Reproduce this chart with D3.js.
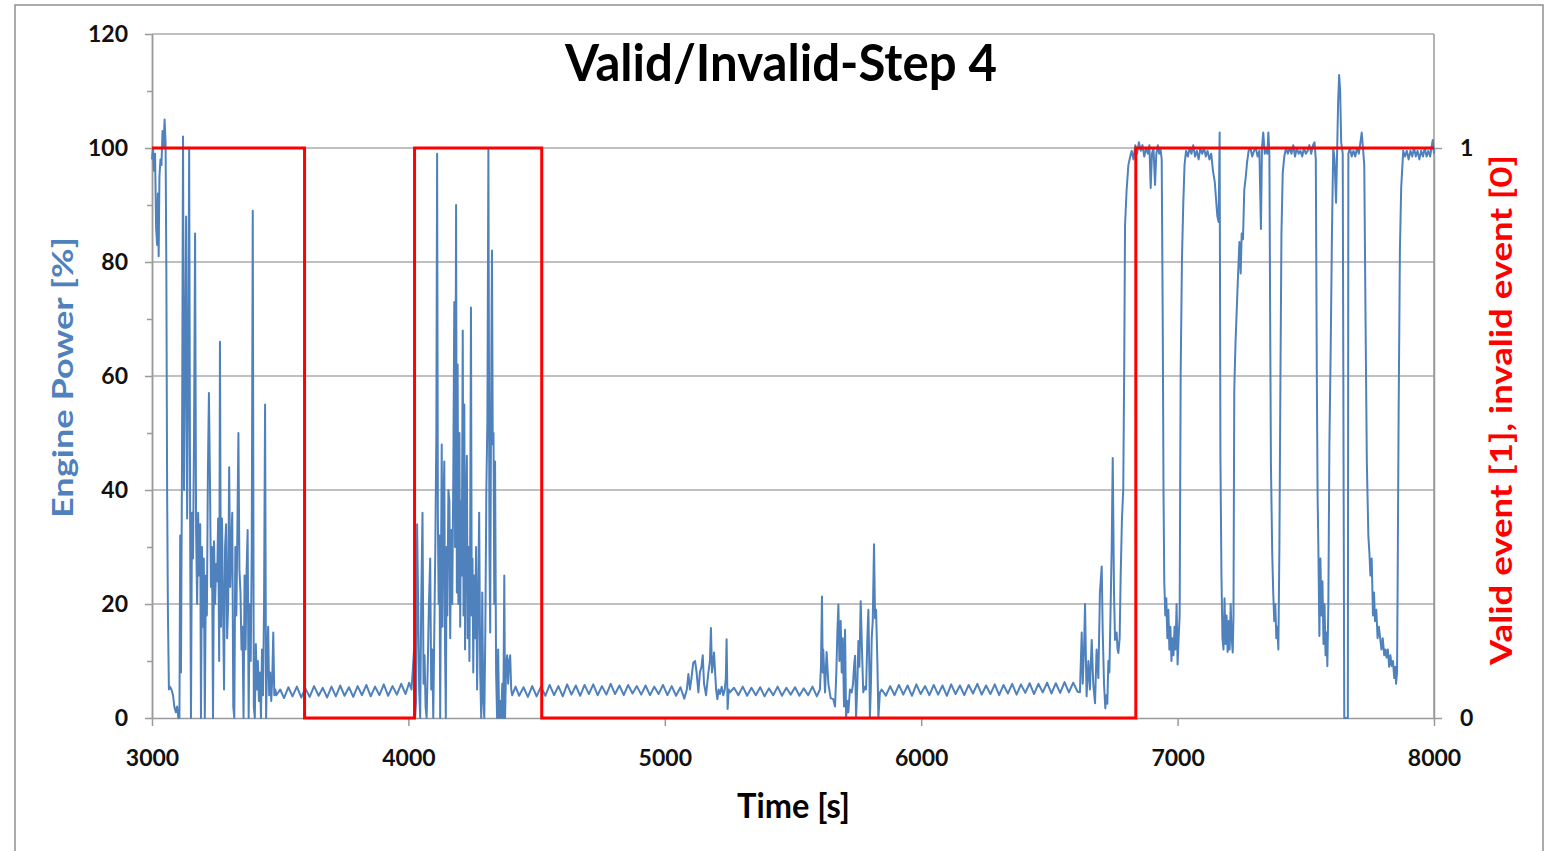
<!DOCTYPE html>
<html>
<head>
<meta charset="utf-8">
<script src="https://cdn.jsdelivr.net/npm/d3@7/dist/d3.min.js"></script>
<style>
body { margin: 0; background: #fff; }
#chart text { font-family: Lato, "Open Sans", sans-serif; font-weight: bold; }
</style>
</head>
<body>
<div id="chart"></div>
<script>
// engine power [%], as [time s, power %] pairs, segment by segment
var powerStart = [[3000,98],[3004,100],[3008,96],[3012,99],[3016,86],[3020,83],[3023,92],[3026,81],[3029,95],[3033,98],[3037,97],[3041,103],[3045,100],[3049,105],[3053,101],[3056,78],[3059,40],[3062,19],[3066,5],[3070,5.5],[3076,5],[3082,4],[3087,2],[3093,1],[3098,2],[3103,0]];
var powerBurst1 = [[3107,0],[3110,32],[3113,8],[3117,45],[3121,102],[3125,40],[3129,63],[3133,88],[3137,35],[3141,60],[3145,100],[3149,30],[3152,0],[3156,36],[3160,28],[3164,50],[3168,85],[3172,33],[3176,20],[3180,36],[3184,25],[3188,34],[3191,0],[3195,30],[3199,16],[3202,28],[3206,0],[3210,25],[3214,18],[3218,43],[3222,57],[3226,42],[3230,23],[3234,30],[3238,0],[3242,31],[3246,20],[3250,27],[3254,24],[3258,35],[3262,10],[3265,66],[3269,16],[3273,35],[3277,20],[3281,5],[3285,30],[3289,34],[3293,14],[3297,20],[3301,44],[3305,23],[3309,30],[3313,36],[3317,2],[3321,0],[3325,30],[3329,18],[3333,33],[3337,50],[3341,26],[3345,22],[3349,12],[3353,16],[3357,0],[3361,25],[3365,12],[3369,26],[3373,33],[3377,0],[3381,20],[3385,10],[3389,30],[3393,89],[3397,2],[3401,0],[3405,13],[3409,5],[3413,10],[3417,3],[3421,8],[3425,0],[3429,12],[3433,4],[3437,20],[3441,55],[3445,0],[3449,10],[3453,16],[3457,4],[3461,8],[3465,3],[3469,7],[3473,15],[3477,4],[3481,5]];
var powerIdle1 = [[3485,4],[3500,5],[3515,3.5],[3532,5.4],[3548,3.8],[3565,5.5],[3582,3.6],[3598,5.2],[3615,3.7],[3632,5.6],[3650,3.9],[3666,5.3],[3683,3.6],[3700,5.5],[3717,3.8],[3734,5.7],[3751,3.9],[3768,5.4],[3785,3.7],[3802,5.6],[3819,4.0],[3836,5.8],[3853,3.8],[3870,5.5],[3887,4.0],[3904,5.9],[3921,3.9],[3938,5.6],[3955,4.1],[3972,6.0],[3989,4.2],[4003,6.2],[4012,5]];
var powerBurst2 = [[4018,9],[4022,12],[4026,0],[4030,3],[4034,34],[4038,20],[4042,5],[4046,0],[4050,20],[4055,36],[4059,6],[4063,11],[4067,2],[4071,0],[4075,8],[4080,20],[4085,28],[4089,5],[4093,12],[4097,0],[4101,15],[4105,30],[4109,50],[4112,99],[4115,35],[4118,20],[4121,32],[4124,0],[4127,25],[4130,48],[4133,16],[4136,36],[4140,45],[4143,12],[4146,0],[4149,30],[4152,18],[4156,40],[4160,38],[4163,14],[4167,33],[4171,20],[4175,42],[4179,73],[4182,30],[4186,90],[4189,22],[4192,62],[4195,20],[4199,50],[4202,16],[4205,38],[4208,25],[4212,68],[4215,18],[4218,55],[4221,12],[4224,35],[4228,46],[4231,14],[4234,30],[4238,10],[4241,32],[4244,72],[4247,18],[4250,28],[4253,8],[4256,25],[4260,14],[4264,30],[4268,5],[4272,20],[4276,36],[4280,8],[4284,0],[4288,22],[4292,3],[4296,0],[4300,15],[4304,40],[4308,52],[4312,100],[4316,30],[4319,15],[4322,51],[4326,82],[4329,48],[4332,50],[4335,20],[4338,45],[4342,8],[4346,0],[4350,12],[4354,0],[4358,3],[4362,0],[4366,6],[4370,0],[4374,25],[4377,0],[4381,9],[4385,11],[4389,6],[4393,10],[4397,11],[4401,5]];
var powerIdle2 = [[4405,4],[4418,5.5],[4432,3.9],[4449,5.4],[4466,3.7],[4483,5.6],[4500,3.8],[4517,5.5],[4534,3.9],[4551,5.8],[4568,4.0],[4585,5.6],[4602,3.8],[4619,5.9],[4636,4.1],[4653,5.7],[4670,3.9],[4687,5.8],[4704,4.2],[4721,5.9],[4738,4.0],[4755,5.6],[4772,4.1],[4789,6.0],[4806,4.2],[4823,5.7],[4840,4.0],[4857,5.8],[4874,4.3],[4891,5.6],[4908,4.1],[4925,5.7],[4942,4.0],[4959,5.5],[4976,4.2],[4993,5.8],[5010,4.0],[5027,5.6],[5044,3.9],[5061,5.4],[5076,3.4]];
var powerBump1 = [[5086,5],[5092,7.7],[5098,5],[5104,7],[5111,9.7],[5118,10],[5124,8],[5131,4.5],[5137,8],[5143,9],[5148,11],[5153,6],[5161,4],[5170,8],[5176,10],[5180,15.8],[5184,8],[5187,9],[5192,11.5],[5200,5],[5205,3.3],[5210,5],[5215,4.2],[5222,5.5],[5228,4],[5234,5],[5238,7],[5241,13.8],[5245,1.6],[5249,5],[5254,4.5]];
var powerIdle3 = [[5270,5.3],[5287,4.0],[5304,5.5],[5321,3.9],[5338,5.3],[5355,4.0],[5372,5.4],[5389,3.8],[5406,5.2],[5423,4.0],[5440,5.5],[5457,3.9],[5474,5.3],[5491,4.1],[5508,5.4],[5525,3.9],[5542,5.2],[5559,4.0],[5576,5.5],[5593,3.8]];
var powerBump2 = [[5605,5],[5609,9],[5613,21.3],[5616,8],[5618,12],[5625,4.5],[5631,11.6],[5638,6],[5647,3.5],[5657,3.3],[5664,2],[5669,8],[5673,15],[5677,19.9],[5681,10],[5686,17],[5690,8],[5694,14],[5699,2],[5703,15.5],[5707,0],[5712,3],[5716,1],[5722,5],[5729,4.5],[5734,6],[5738,9],[5742,10.9],[5746,0],[5751,6],[5755,13.5],[5759,9],[5764,20.5],[5769,12],[5774,4.5],[5780,5.5],[5785,5],[5790,14],[5794,19],[5798,8],[5800,0],[5804,6],[5807,14],[5811,17],[5816,30.5],[5820,17.5],[5824,19],[5829,10],[5833,0],[5839,4.5]];
var powerIdle4 = [[5846,5],[5862,3.9],[5879,5.6],[5896,4.0],[5913,5.8],[5930,4.1],[5947,5.7],[5964,3.9],[5981,5.9],[5998,4.2],[6015,5.6],[6032,4.0],[6049,5.8],[6066,4.1],[6083,5.7],[6100,3.9],[6117,5.9],[6134,4.2],[6151,5.7],[6168,4.0],[6185,5.8],[6202,4.3],[6219,6.0],[6236,4.1],[6253,5.7],[6270,4.2],[6287,5.9],[6304,4.0],[6321,5.8],[6338,4.3],[6355,6.0],[6372,4.1],[6389,5.9],[6406,4.4],[6423,6.1],[6440,4.2],[6457,6.0],[6474,4.5],[6491,6.2],[6508,4.3],[6525,6.1],[6542,4.4],[6559,6.3],[6576,4.5],[6593,6.2],[6610,4.6]];
var powerRamp = [[6619,4.5],[6626,15],[6630,6],[6635,12],[6639,20],[6643,9],[6645,3.8],[6652,10],[6658,5],[6665,13.7],[6671,6],[6678,2.6],[6684,12],[6691,7],[6697,22],[6704,26.6],[6708,15],[6713,6],[6718,1.7],[6722,4],[6726,2.5],[6730,10],[6734,8],[6739,20],[6743,30],[6747,45.6],[6752,22],[6756,13.7],[6762,15],[6766,12],[6769,11.4],[6774,14],[6778,25],[6783,35],[6788,40],[6792,63],[6795,86.4],[6801,92.5],[6808,97],[6815,98.5],[6821,99.5]];
var powerHigh = [[6828,98],[6835,100.5],[6842,99],[6849,101],[6856,99.5],[6863,100.5],[6870,98.5],[6877,100],[6884,99],[6890,100.5],[6895,93],[6900,99],[6906,100],[6912,93.5],[6917,99],[6923,100.5],[6928,99],[6933,100],[6938,98],[6942,70],[6945,40],[6948,24],[6952,18],[6956,21],[6960,14],[6964,19],[6968,12],[6972,16],[6976,10],[6980,14],[6984,11],[6988,16],[6992,12],[6996,20],[7000,9.4],[7004,14],[7008,18],[7012,60.7],[7017,80.5],[7022,90],[7027,97],[7033,99.5],[7040,98.5],[7047,100],[7054,99],[7061,100.5],[7068,98.5],[7075,99.5],[7082,98],[7089,100],[7096,99],[7103,100],[7110,98.5],[7117,99.5],[7124,98],[7131,99],[7138,96],[7145,94],[7150,91],[7155,88],[7160,87],[7164,102.7],[7167,46],[7171,25],[7175,14],[7179,12],[7183,21],[7187,13],[7191,18],[7195,11.6],[7199,17],[7203,12],[7207,20],[7211,14],[7215,11.5],[7218,18],[7221,57.6],[7226,66],[7231,72],[7236,78],[7241,83.5],[7246,78],[7250,85],[7255,84],[7260,92.6],[7266,95],[7271,97.5],[7277,99.5],[7284,100],[7291,98.5],[7298,99.5],[7305,100],[7312,98.5],[7319,99.5],[7325,85.8],[7329,100],[7334,102.7],[7340,99],[7346,100],[7350,99],[7354,102.7],[7358,99],[7361,70],[7364,44.6],[7369,29],[7373,22],[7377,17],[7381,20],[7385,14],[7389,16],[7393,12],[7397,30],[7401,59],[7405,85],[7410,95.6],[7416,98.5],[7423,100],[7430,99],[7437,100],[7444,99],[7451,100.5],[7458,98.5],[7465,100],[7472,99],[7479,99.5],[7486,98.5],[7493,100],[7500,99],[7507,99.5],[7514,100.5],[7521,99],[7528,100.5],[7534,101],[7539,98],[7543,60],[7546,39],[7549,30],[7553,14.4],[7557,28],[7561,18],[7565,24],[7569,13],[7573,20],[7577,11],[7581,15],[7584,9.1],[7588,20],[7592,48],[7597,64.5],[7602,85],[7607,100],[7612,98],[7618,90.4],[7622,99],[7626,108],[7630,112.8],[7634,110],[7638,101],[7644,99],[7650,0],[7664,0],[7666,99],[7672,100],[7679,98.5],[7686,99.5],[7693,98.5],[7700,100],[7707,99],[7713,101],[7718,102.7],[7723,100],[7728,97],[7733,70],[7738,45],[7744,31.9],[7748,29],[7752,25],[7757,28],[7762,18],[7766,22],[7770,17],[7775,19],[7780,14],[7785,16],[7789,14.4],[7795,12],[7800,14],[7806,11],[7811,12],[7815,10.6],[7820,12],[7825,9],[7830,11],[7835,9.1],[7840,10],[7845,7],[7849,9],[7852,6],[7856,8],[7859,30],[7862,53],[7867,82],[7872,93],[7880,99.5],[7887,98.5],[7894,99.5],[7901,98],[7908,99.5],[7915,98.5],[7922,100],[7929,98.5],[7936,99.5],[7943,98],[7950,99.5],[7957,98.5],[7964,100],[7971,98.5],[7978,99.5],[7985,98.5],[7990,100],[7995,101.4],[8000,99]];

// valid (1) / invalid (0) flag, holds until the next change time
var validTime = [3000, 3595, 4024, 4520, 6837, 8000];
var validFlag = [1, 0, 1, 0, 1, 1];

var xTicks = [3000, 4000, 5000, 6000, 7000, 8000];
var yTicks = [0, 20, 40, 60, 80, 100, 120];
var yMinorTicks = [10, 30, 50, 70, 90, 110];
var y2Ticks = [0, 1];

var W = 1555, H = 851;
var BLUE = "#4f81bd";
var RED = "#ff0000";
var GRID = "#ababab";

var power = [].concat(powerStart, powerBurst1, powerIdle1, powerBurst2, powerIdle2,
    powerBump1, powerIdle3, powerBump2, powerIdle4, powerRamp, powerHigh);
var valid = validTime.map(function (t, i) { return [t, validFlag[i]]; });

var svg = d3.select("#chart").append("svg")
    .attr("width", W)
    .attr("height", H);

var x = d3.scaleLinear().domain([3000, 8000]).range([152, 1434]);
var y = d3.scaleLinear().domain([0, 120]).range([718, 34]);
var y2 = d3.scaleLinear().domain([0, 1]).range([718, 148]);

// frame round the whole figure
svg.append("rect")
    .attr("x", 15).attr("y", 5)
    .attr("width", 1528).attr("height", 860)
    .attr("fill", "none")
    .attr("stroke", "#909090")
    .attr("stroke-width", 1.5);

// horizontal gridlines
svg.append("g")
    .selectAll("line")
    .data(yTicks.filter(function (d) { return d > 0; }))
    .enter().append("line")
    .attr("x1", x(3000)).attr("x2", x(8000))
    .attr("y1", function (d) { return y(d); })
    .attr("y2", function (d) { return y(d); })
    .attr("stroke", GRID)
    .attr("stroke-width", 1.5);

function styleAxis(g, size) {
    g.selectAll(".domain").attr("stroke", "#9a9a9a").attr("stroke-width", 1.5);
    g.selectAll(".tick line").attr("stroke", "#9a9a9a").attr("stroke-width", 1.5);
    g.selectAll("text").attr("fill", "#111").style("font-size", size + "px");
}

// left axis, minor ticks first
svg.append("g")
    .attr("transform", "translate(" + x(3000) + ",0)")
    .call(d3.axisLeft(y).tickValues(yMinorTicks).tickSize(5).tickSizeOuter(0).tickFormat(""))
    .call(styleAxis, 23);

svg.append("g")
    .attr("transform", "translate(" + x(3000) + ",0)")
    .call(d3.axisLeft(y).tickValues(yTicks).tickSize(7).tickSizeOuter(0).tickPadding(17))
    .call(styleAxis, 23);

svg.append("g")
    .attr("transform", "translate(0," + y(0) + ")")
    .call(d3.axisBottom(x).tickValues(xTicks).tickSize(8).tickSizeOuter(0).tickPadding(24).tickFormat(d3.format("d")))
    .call(styleAxis, 23);

svg.append("g")
    .attr("transform", "translate(" + x(8000) + ",0)")
    .call(d3.axisRight(y2).tickValues(y2Ticks).tickSize(8).tickSizeOuter(0).tickPadding(18).tickFormat(d3.format("d")))
    .call(styleAxis, 23);

// right axis line runs the full plot height
svg.append("line")
    .attr("x1", x(8000)).attr("x2", x(8000))
    .attr("y1", y(120)).attr("y2", y(0))
    .attr("stroke", "#9a9a9a")
    .attr("stroke-width", 1.5);

var powerLine = d3.line()
    .x(function (d) { return x(d[0]); })
    .y(function (d) { return y(d[1]); });

svg.append("path")
    .datum(power)
    .attr("d", powerLine)
    .attr("fill", "none")
    .attr("stroke", BLUE)
    .attr("stroke-width", 2)
    .attr("stroke-linejoin", "round");

var validLine = d3.line()
    .curve(d3.curveStepAfter)
    .x(function (d) { return x(d[0]); })
    .y(function (d) { return y2(d[1]); });

svg.append("path")
    .datum(valid)
    .attr("d", validLine)
    .attr("fill", "none")
    .attr("stroke", RED)
    .attr("stroke-width", 3);

// texts
svg.append("text")
    .attr("x", 565).attr("y", 81)
    .attr("textLength", 432)
    .attr("lengthAdjust", "spacingAndGlyphs")
    .style("font-size", "52px")
    .attr("fill", "#000")
    .text("Valid/Invalid-Step 4");

svg.append("text")
    .attr("x", 737).attr("y", 818)
    .attr("textLength", 113)
    .attr("lengthAdjust", "spacingAndGlyphs")
    .style("font-size", "35px")
    .attr("fill", "#000")
    .text("Time [s]");

svg.append("text")
    .attr("transform", "translate(73,518) rotate(-90)")
    .attr("textLength", 281)
    .attr("lengthAdjust", "spacingAndGlyphs")
    .style("font-size", "28px")
    .attr("fill", BLUE)
    .text("Engine Power [%]");

svg.append("text")
    .attr("transform", "translate(1512,665) rotate(-90)")
    .attr("textLength", 510)
    .attr("lengthAdjust", "spacingAndGlyphs")
    .style("font-size", "30px")
    .attr("fill", RED)
    .text("Valid event [1], invalid event [0]");
</script>
</body>
</html>
